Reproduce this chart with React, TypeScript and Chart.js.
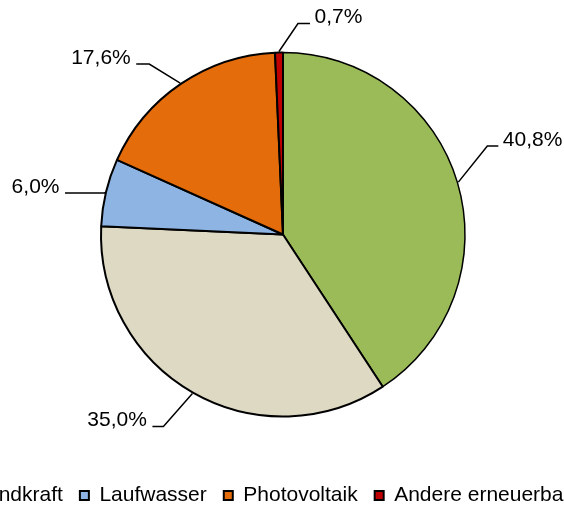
import React, { useEffect, useRef } from 'react';
import { Chart, registerables } from 'chart.js';

Chart.register(...registerables);

// ---- data ----
const categories = ['Biomasse', 'Windkraft', 'Laufwasser', 'Photovoltaik', 'Andere erneuerbare Energien'];
const shares = [40.8, 35.0, 6.0, 17.6, 0.7];

// ---- styling ----
const sliceColors = ['#9BBB59', '#DDD9C3', '#8DB4E2', '#E46C0A', '#C00000'];
const sliceBorders = [1.5, 2, 2, 2, 2];
const FONT = '"Liberation Sans", Arial, sans-serif';

// leader line geometry per slice: elbow offset from the slice edge, horizontal tail length (px)
const leaderLayout = [
  { ex: 29, ey: -36, tail: 11 },
  { ex: -29, ey: 33, tail: -11 },
  { ex: 0, ey: 1, tail: -40 },
  { ex: -31, ey: -19, tail: -13 },
  { ex: 19, ey: -28, tail: 12 },
];

const fmt = (v: number) => v.toFixed(1).replace('.', ',') + '%';

const leaderPlugin = {
  id: 'leaderLabels',
  afterDatasetsDraw(chart: any) {
    const ctx = chart.ctx as CanvasRenderingContext2D;
    const meta = chart.getDatasetMeta(0);
    meta.data.forEach((arc: any, i: number) => {
      const { x, y, startAngle, endAngle, outerRadius } = arc.getProps(
        ['x', 'y', 'startAngle', 'endAngle', 'outerRadius'],
        true
      );
      const mid = (startAngle + endAngle) / 2;
      const r = outerRadius + 1;
      const sx = x + Math.cos(mid) * r;
      const sy = y + Math.sin(mid) * r;
      const L = leaderLayout[i];
      const ex = sx + L.ex;
      const ey = sy + L.ey;
      const tx = ex + L.tail;
      ctx.save();
      ctx.beginPath();
      ctx.moveTo(sx, sy);
      ctx.lineTo(ex, ey);
      ctx.lineTo(tx, ey);
      ctx.lineWidth = 1.5;
      ctx.strokeStyle = '#000';
      ctx.lineJoin = 'miter';
      ctx.stroke();
      ctx.font = '21px ' + FONT;
      ctx.fillStyle = '#000';
      ctx.textBaseline = 'middle';
      const toRight = L.tail > 0;
      ctx.textAlign = toRight ? 'left' : 'right';
      ctx.fillText(fmt(shares[i]), tx + (toRight ? 4.5 : -5.5), ey - 6);
      ctx.restore();
    });
  },
};

export default function App() {
  const ref = useRef<HTMLCanvasElement>(null);

  useEffect(() => {
    const chart = new Chart(ref.current as HTMLCanvasElement, {
      type: 'pie',
      data: {
        labels: categories,
        datasets: [
          {
            data: shares,
            backgroundColor: sliceColors,
            borderColor: '#000',
            borderWidth: sliceBorders,
          },
        ],
      },
      options: {
        responsive: false,
        animation: false,
        layout: { padding: { top: 51.5, left: 109, right: 43 } },
        plugins: {
          legend: {
            position: 'bottom',
            align: 'start',
            labels: {
              boxWidth: 9,
              boxHeight: 9,
              padding: 17,
              color: '#000',
              font: { size: 21, family: FONT },
            },
            title: {
              display: true,
              text: ' ',
              font: { size: 1 },
              padding: { top: 0, bottom: 49.3 },
            },
          },
          tooltip: { enabled: false },
        },
      },
      plugins: [leaderPlugin],
    } as any);
    return () => chart.destroy();
  }, []);

  return (
    <div
      style={{
        position: 'fixed',
        left: 0,
        top: 0,
        width: 564,
        height: 507,
        overflow: 'hidden',
        background: '#fff',
      }}
    >
      <canvas
        ref={ref}
        width={1100}
        height={516}
        style={{ position: 'absolute', left: -300, top: 0, width: 1100, height: 516 }}
      />
    </div>
  );
}
